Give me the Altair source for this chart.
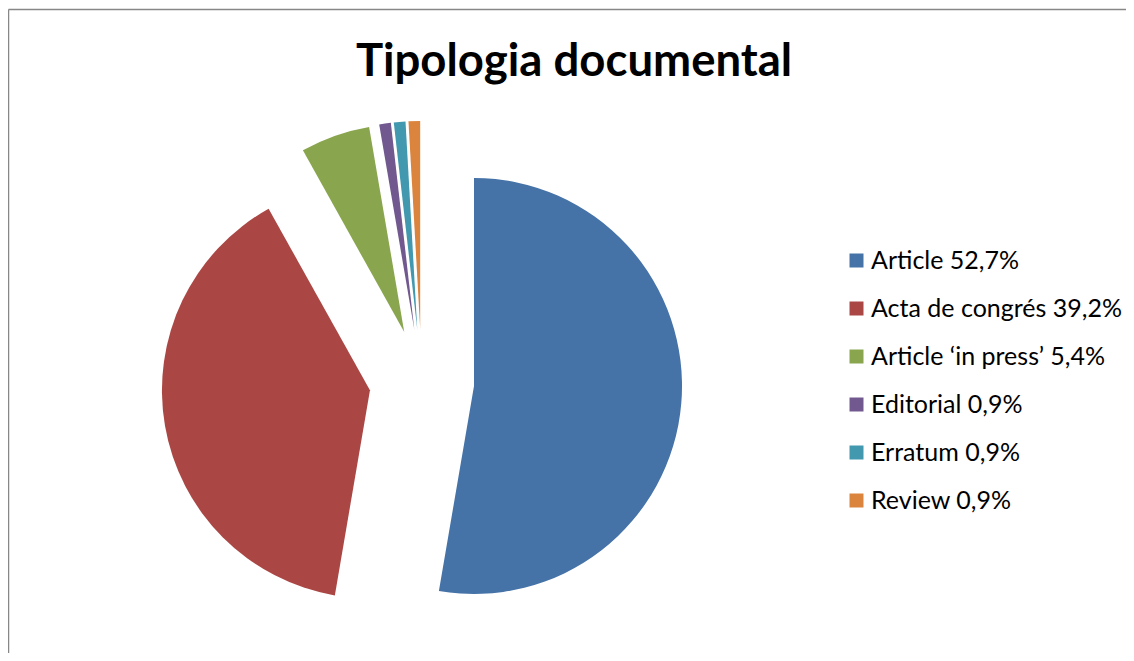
import altair as alt
import pandas as pd

# ---- data ----
categories = ["Article", "Acta de congrés", "Article \u2018in press\u2019", "Editorial", "Erratum", "Review"]
values = [52.7, 39.2, 5.4, 0.9, 0.9, 0.9]
colors = ["#4572A7", "#AA4643", "#89A54E", "#71588F", "#4198AF", "#DB843D"]

labels = [f"{c} {str(v).replace('.', ',')}%" for c, v in zip(categories, values)]
df = pd.DataFrame({"order": list(range(len(categories))), "label": labels, "value": values})

# ---- layout ----
W, H = 1118, 645
CX, CY = 413.7, 373.5
R = 208
EXPLODE = 52.5
FONT = "Lato"

pie = (
    alt.Chart(df)
    .transform_joinaggregate(total="sum(value)")
    .transform_window(cum="sum(value)", sort=[alt.SortField("order")], frame=[None, 0])
    .transform_calculate(t0="2*PI*(datum.cum - datum.value)/datum.total")
    .transform_calculate(t1="2*PI*datum.cum/datum.total")
    .transform_calculate(mid="(datum.t0 + datum.t1)/2")
    .transform_calculate(px=f"{CX} + {EXPLODE}*sin(datum.mid)")
    .transform_calculate(py=f"{CY} - {EXPLODE}*cos(datum.mid)")
    .mark_arc(radius=R)
    .encode(
        x=alt.X("px:Q", scale=None, axis=None),
        y=alt.Y("py:Q", scale=None, axis=None),
        theta=alt.Theta("t0:Q", scale=None),
        theta2="t1:Q",
        color=alt.Color(
            "label:N",
            scale=alt.Scale(domain=labels, range=colors),
            legend=alt.Legend(
                title=None,
                orient="none",
                legendX=836,
                legendY=240,
                symbolType="square",
                symbolSize=196,
                symbolStrokeWidth=0,
                labelFontSize=25,
                labelFont=FONT,
                labelColor="#000000",
                labelOffset=2,
                rowPadding=22,
                padding=0,
                labelLimit=400,
            ),
        ),
    )
)

frame_df = pd.DataFrame({"k": [0]})
top_line = alt.Chart(frame_df).mark_rule(color="#878787", strokeWidth=1.5).encode(
    x=alt.value(0.5), x2=alt.value(W), y=alt.value(1.5)
)
left_line = alt.Chart(frame_df).mark_rule(color="#878787", strokeWidth=1.5).encode(
    x=alt.value(0.5), y=alt.value(1.5), y2=alt.value(H)
)

chart = (
    alt.layer(top_line, left_line, pie)
    .properties(
        width=W,
        height=H,
        padding=0,
        autosize=alt.AutoSizeParams(type="none"),
        background="white",
        title=alt.TitleParams(
            "Tipologia documental",
            font=FONT,
            fontSize=45.5,
            fontWeight="bold",
            color="#000000",
            anchor="middle",
            baseline="alphabetic",
            offset=0,
            dy=113,
            dx=7,
        ),
    )
    .configure_view(stroke=None)
)

chart.save("out.html", embed_options={"renderer": "svg", "actions": False})
